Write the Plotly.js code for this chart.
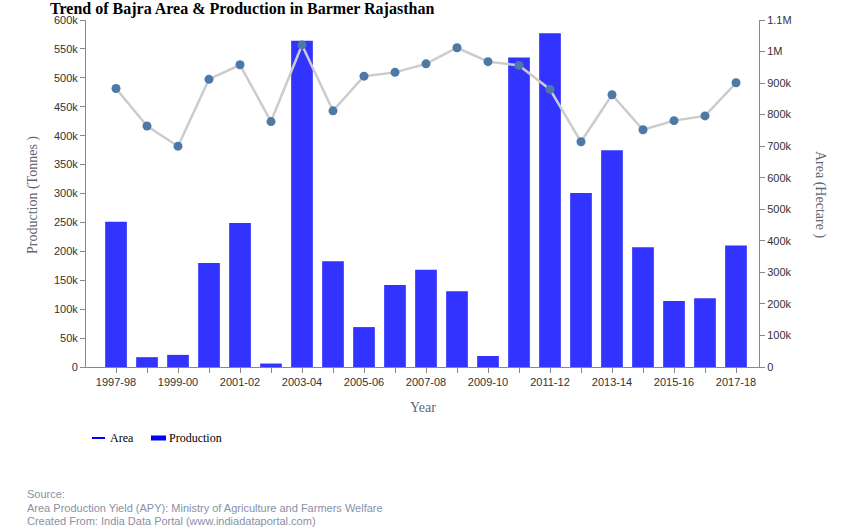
<!DOCTYPE html>
<html>
<head>
<meta charset="utf-8">
<script src="https://cdn.plot.ly/plotly-3.0.1.min.js"></script>
<style>html,body{margin:0;padding:0;background:#fff;}#chart{width:853px;height:532px;}</style>
</head>
<body>
<div id="chart"></div>
<script>
const years = ["1997-98","1998-99","1999-00","2000-01","2001-02","2002-03","2003-04","2004-05","2005-06","2006-07","2007-08","2008-09","2009-10","2010-11","2011-12","2012-13","2013-14","2014-15","2015-16","2016-17","2017-18"];
const production = [251000,17000,21000,180000,249000,6000,564000,183000,69000,142000,168000,131000,19000,535000,577000,301000,375000,207000,114000,119000,210000];
const area = [883000,764000,700000,912000,958000,778000,1021000,812000,922000,934000,961000,1012000,968000,956000,880000,714000,863000,752000,781000,796000,901000];
const tickText = years.map((y,i)=> i%2===0 ? y : '');

const serif = "Liberation Serif, Times New Roman, serif";
const sans = "Liberation Sans, Arial, sans-serif";

const traces = [
  {type:'bar', x:years, y:production, name:'Production', marker:{color:'#3333ff', line:{width:0}}, yaxis:'y', showlegend:false},
  {type:'scatter', mode:'lines+markers', x:years, y:area, name:'Area', yaxis:'y2', showlegend:false,
   line:{color:'#cccccc', width:2.5}, marker:{color:'#4e79a7', size:9}}
];

const axisCommon = {showgrid:false, zeroline:false, showline:true, linecolor:'#888', linewidth:1, ticks:'outside', ticklen:5, tickcolor:'#888', tickfont:{family:sans, size:11, color:'#333'}};

// pixel helpers for paper coords (plot area: x 86..759, y 20..367)
const px = v => (v-86)/673;
const py = v => (367-v)/347;

const layout = {
  width:853, height:532,
  margin:{l:86, r:94, t:20, b:165},
  paper_bgcolor:'#fff', plot_bgcolor:'#fff',
  bargap:0.3,
  showlegend:false,
  title:{text:'Trend of Bajra Area & Production in Barmer Rajasthan', font:{family:serif, size:16, color:'#000', weight:'bold'}, xref:'container', x:50/853, xanchor:'left', yref:'container', y:0.995, yanchor:'top'},
  xaxis:Object.assign({}, axisCommon, {type:'category', tickmode:'array', tickvals:years, ticktext:tickText, range:[-0.968, 20.742]}),
  yaxis:Object.assign({}, axisCommon, {range:[0,600000], dtick:50000, tickformat:'~s'}),
  yaxis2:Object.assign({}, axisCommon, {overlaying:'y', side:'right', range:[0,1100000], dtick:100000, tickformat:'~s'}),
  shapes:[
    {type:'line', xref:'paper', yref:'paper', x0:px(92), x1:px(105), y0:py(438), y1:py(438), line:{color:'#0000ff', width:2}},
    {type:'line', xref:'paper', yref:'paper', x0:px(151), x1:px(166), y0:py(438), y1:py(438), line:{color:'#0000ff', width:5}}
  ],
  annotations:[
    {text:'Area', xref:'paper', yref:'paper', x:px(108), y:py(438), xanchor:'left', yanchor:'middle', showarrow:false, font:{family:serif, size:12, color:'#000'}},
    {text:'Production', xref:'paper', yref:'paper', x:px(167), y:py(438), xanchor:'left', yanchor:'middle', showarrow:false, font:{family:serif, size:12, color:'#000'}},
    {text:'Year', xref:'paper', yref:'paper', x:0.5, y:py(407), xanchor:'center', yanchor:'middle', showarrow:false, font:{family:serif, size:14, color:'#5f6673'}},
    {text:'Production (Tonnes )', xref:'paper', yref:'paper', x:px(33), y:py(195), xanchor:'center', yanchor:'middle', textangle:-90, showarrow:false, font:{family:serif, size:14, color:'#5f6673'}},
    {text:'Area (Hectare )', xref:'paper', yref:'paper', x:px(820), y:py(195), xanchor:'center', yanchor:'middle', textangle:90, showarrow:false, font:{family:serif, size:14, color:'#5f6673'}},
    {text:'Source:', xref:'paper', yref:'paper', x:px(25), y:py(494), xanchor:'left', yanchor:'middle', showarrow:false, font:{family:sans, size:11, color:'#8a90a5'}},
    {text:'Area Production Yield (APY): Ministry of Agriculture and Farmers Welfare', xref:'paper', yref:'paper', x:px(25), y:py(508), xanchor:'left', yanchor:'middle', showarrow:false, font:{family:sans, size:11, color:'#8a90a5'}},
    {text:'Created From: India Data Portal (www.indiadataportal.com)', xref:'paper', yref:'paper', x:px(25), y:py(521), xanchor:'left', yanchor:'middle', showarrow:false, font:{family:sans, size:11, color:'#8a90a5'}}
  ]
};

Plotly.newPlot('chart', traces, layout, {displayModeBar:false, staticPlot:true});
</script>
</body>
</html>
